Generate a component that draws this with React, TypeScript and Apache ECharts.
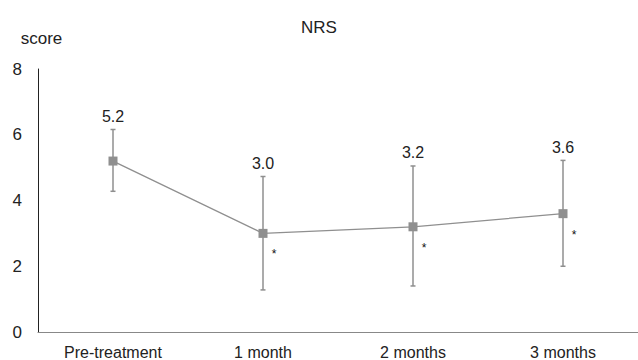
import React, { useEffect, useRef } from "react";
import * as echarts from "echarts";

const categories = ["Pre-treatment", "1 month", "2 months", "3 months"];
const means = [5.2, 3.0, 3.2, 3.6];
const upper = [6.16, 4.73, 5.05, 5.22];
const lower = [4.28, 1.28, 1.4, 2.0];
const valueLabels = ["5.2", "3.0", "3.2", "3.6"];
const significance = ["", "*", "*", "*"];
const yTicks = [0, 2, 4, 6, 8];

export default function App() {
  const ref = useRef<HTMLDivElement>(null);
  useEffect(() => {
    if (!ref.current) return;
    const chart = echarts.init(ref.current, null, { renderer: "svg" });
    const font = "Liberation Sans, Arial, Helvetica, sans-serif";
    const gray = "#8f8f8f";
    chart.setOption({
      animation: false,
      textStyle: { fontFamily: font },
      title: {
        text: "NRS",
        left: "center",
        top: 14,
        textStyle: { fontSize: 17, fontWeight: "normal", color: "#222", fontFamily: font },
      },
      grid: { left: 38, right: 0, top: 69, bottom: 26, containLabel: false },
      xAxis: {
        type: "category",
        data: categories,
        boundaryGap: true,
        axisLine: { lineStyle: { color: "#888", width: 1.2 } },
        axisTick: { show: false },
        axisLabel: { color: "#222", fontSize: 16, margin: 12, fontFamily: font },
      },
      yAxis: {
        type: "value",
        min: yTicks[0],
        max: yTicks[yTicks.length - 1],
        interval: 2,
        name: "score",
        nameLocation: "end",
        nameGap: 22,
        nameTextStyle: { color: "#222", fontSize: 17, align: "center", padding: [0, 0, 0, 7], fontFamily: font },
        axisLine: { show: true, lineStyle: { color: "#222", width: 1 } },
        axisTick: { show: false },
        splitLine: { show: false },
        axisLabel: { color: "#222", fontSize: 17, margin: 16, fontFamily: font },
      },
      series: [
        {
          type: "custom",
          z: 1,
          itemStyle: { color: "#000" },
          data: categories.map((_, i) => [i, lower[i], upper[i], means[i]]),
          renderItem: (params: any, api: any) => {
            const i = api.value(0);
            const lo = api.coord([i, api.value(1)]);
            const hi = api.coord([i, api.value(2)]);
            const mid = api.coord([i, api.value(3)]);
            const cap = 2.5;
            const st = { stroke: gray, lineWidth: 1.5 };
            const children: any[] = [
              { type: "line", shape: { x1: hi[0], y1: hi[1], x2: lo[0], y2: lo[1] }, style: st },
              { type: "line", shape: { x1: hi[0] - cap, y1: hi[1], x2: hi[0] + cap, y2: hi[1] }, style: st },
              { type: "line", shape: { x1: lo[0] - cap, y1: lo[1], x2: lo[0] + cap, y2: lo[1] }, style: st },
              {
                type: "text",
                x: hi[0],
                y: hi[1] - 13,
                style: {
                  text: valueLabels[params.dataIndex],
                  fill: "#222",
                  fontSize: 16,
                  fontFamily: font,
                  align: "center",
                  verticalAlign: "middle",
                },
              },
            ];
            if (significance[params.dataIndex]) {
              children.push({
                type: "text",
                x: mid[0] + 11,
                y: mid[1] + 21,
                style: {
                  text: significance[params.dataIndex],
                  fill: "#111",
                  fontSize: 12,
                  fontFamily: font,
                  align: "center",
                  verticalAlign: "middle",
                },
              });
            }
            return { type: "group", children };
          },
        },
        {
          type: "line",
          z: 3,
          data: means,
          symbol: "rect",
          symbolSize: 9,
          lineStyle: { color: gray, width: 1.3 },
          itemStyle: { color: gray },
          label: { show: false },
        },
      ],
    });
    return () => chart.dispose();
  }, []);
  return (
    <div
      ref={ref}
      style={{ position: "fixed", left: 0, top: 0, width: 638, height: 360, background: "#fff" }}
    />
  );
}
